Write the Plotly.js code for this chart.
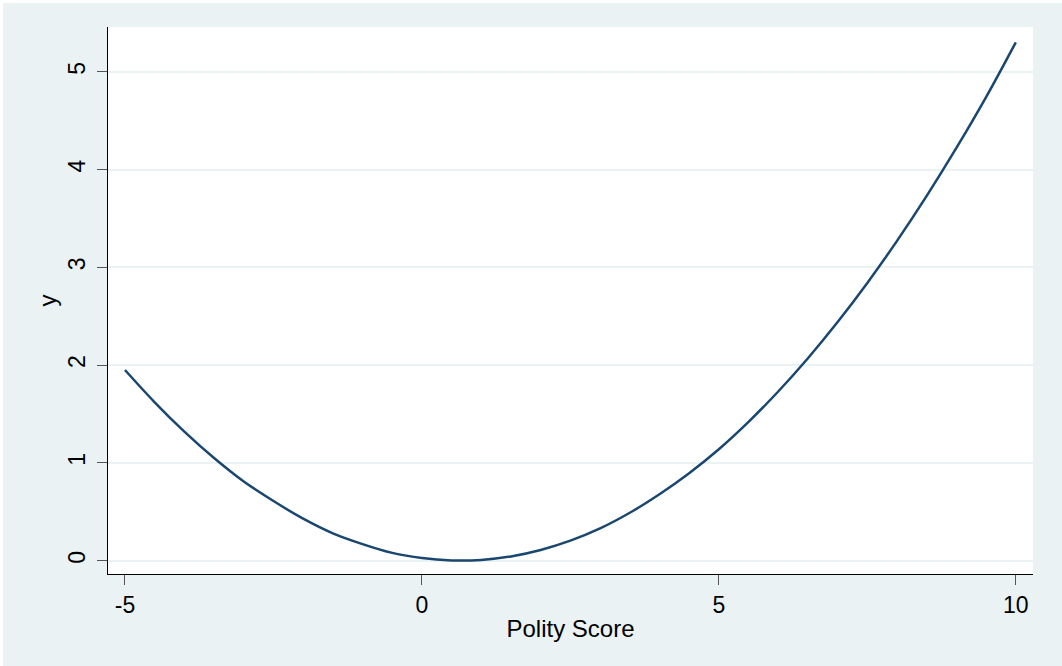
<!DOCTYPE html>
<html>
<head>
<meta charset="utf-8">
<script src="https://cdn.plot.ly/plotly-3.0.1.min.js"></script>
<style>
  html, body { margin: 0; padding: 0; background: #ffffff; }
  #chart { position: absolute; left: 3px; top: 3px; width: 1059px; height: 663px; }
</style>
</head>
<body>
<div id="chart"></div>
<script>
// Values
const polityScore = [-5, -4.5, -4, -3.5, -3, -2.5, -2, -1.5, -1, -0.5, 0, 0.5, 1, 1.5, 2, 2.5, 3, 3.5, 4, 4.5, 5, 5.5, 6, 6.5, 7, 7.5, 8, 8.5, 9, 9.5, 10];
const yValues = [1.95, 1.62, 1.32, 1.05, 0.81, 0.61, 0.43, 0.28, 0.17, 0.08, 0.027, 0.003, 0.008, 0.044, 0.11, 0.205, 0.33, 0.49, 0.68, 0.895, 1.14, 1.42, 1.73, 2.07, 2.44, 2.84, 3.27, 3.73, 4.22, 4.74, 5.30];
const xTicks = [-5, 0, 5, 10];
const yTicks = [0, 1, 2, 3, 4, 5];

const trace = {
  x: polityScore,
  y: yValues,
  type: 'scatter',
  mode: 'lines',
  line: { color: '#1a476f', width: 2.5, shape: 'spline', smoothing: 1 },
  hoverinfo: 'x+y'
};

const fontFam = 'Liberation Sans, Arial, sans-serif';

const layout = {
  width: 1059,
  height: 663,
  paper_bgcolor: '#eaf2f3',
  plot_bgcolor: '#ffffff',
  margin: { l: 105, r: 29, t: 24, b: 92, pad: 0 },
  showlegend: false,
  font: { family: fontFam, size: 23, color: '#000000' },
  xaxis: {
    range: [-5.286, 10.29],
    tickvals: xTicks,
    ticktext: xTicks.map(String),
    showgrid: false,
    zeroline: false,
    showline: true,
    linecolor: '#000000',
    linewidth: 1,
    ticks: 'outside',
    ticklen: 10,
    tickwidth: 1,
    tickcolor: '#555555',
    tickfont: { family: fontFam, size: 23, color: '#000000' },
    title: { text: 'Polity Score', font: { family: fontFam, size: 24, color: '#000000' }, standoff: 3 }
  },
  yaxis: {
    range: [-0.136, 5.457],
    tickvals: yTicks,
    ticktext: yTicks.map(String),
    tickangle: -90,
    showgrid: true,
    gridcolor: '#eaf2f3',
    gridwidth: 1.5,
    zeroline: false,
    showline: true,
    linecolor: '#000000',
    linewidth: 1,
    ticks: 'outside',
    ticklen: 10,
    tickwidth: 1,
    tickcolor: '#555555',
    ticklabelstandoff: 3,
    tickfont: { family: fontFam, size: 23, color: '#000000' },
    title: { text: 'y', font: { family: fontFam, size: 24, color: '#000000' }, standoff: 0 }
  }
};

Plotly.newPlot('chart', [trace], layout, { displayModeBar: false, responsive: false });
</script>
</body>
</html>
